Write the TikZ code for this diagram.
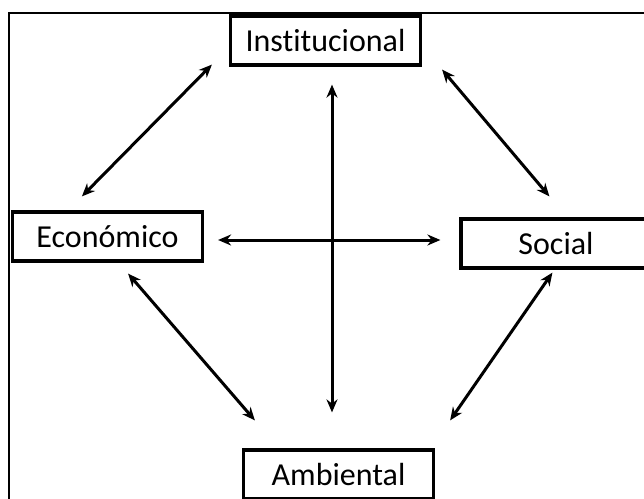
\documentclass[tikz,border=0pt]{standalone}
\usepackage{fontspec}
\setmainfont[Ligatures=NoCommon]{Carlito}
\usetikzlibrary{arrows.meta}
\begin{document}
\begin{tikzpicture}[x=1pt,y=1pt]
  \tikzstyle{box}=[rectangle,draw,line width=3.2pt,fill=white,inner sep=0pt,minimum width=190pt,minimum height=49pt,font=\fontsize{32}{38}\selectfont]
  \tikzstyle{link}=[draw,line width=3pt,{Stealth[length=13pt,width=11pt]}-{Stealth[length=13pt,width=11pt]}]
  \useasboundingbox (0,0) rectangle (644,-498);
  \clip (0,0) rectangle (644,-498);
  \draw[line width=2.8pt] (9,-13) rectangle (680,-540);
  \node [box] (inst) at (325.5,-40.5)  {Institucional};
  \node [box] (econ) at (107.5,-236.5) {Económico};
  \node [box] (soc)  at (556,-243.5)   {Social};
  \node [box] (amb)  at (338.5,-474.5) {Ambiental};
  \draw [link] ([xshift=-17pt,yshift=2pt]inst.south west) -- ([xshift=71pt,yshift=14pt]econ.north west);
  \draw [link] ([xshift=20pt,yshift=-3pt]inst.south east) -- ([xshift=90pt,yshift=21pt]soc.north west);
  \draw [link] ([xshift=14pt,yshift=-3.5pt]econ.east) -- ([xshift=-19pt,yshift=3.5pt]soc.west);
  \draw [link] ([xshift=6.5pt,yshift=-18pt]inst.south) -- ([xshift=-6.5pt,yshift=36pt]amb.north);
  \draw [link] ([xshift=-76pt,yshift=-11pt]econ.south east) -- ([xshift=13pt,yshift=28pt]amb.north west);
  \draw [link] ([xshift=93pt,yshift=-3pt]soc.south west) -- ([xshift=15pt,yshift=28pt]amb.north east);
\end{tikzpicture}
\end{document}
